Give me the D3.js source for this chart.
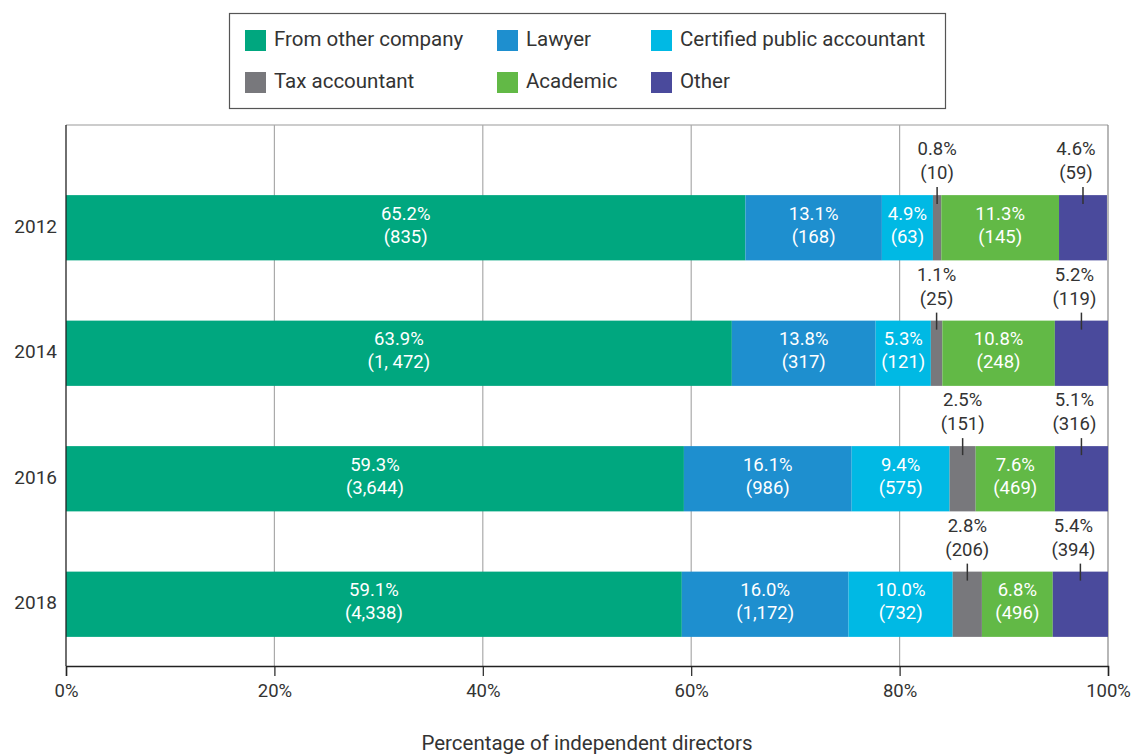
<!DOCTYPE html>
<html>
<head>
<meta charset="utf-8">
<script src="https://cdn.jsdelivr.net/npm/d3@7"></script>
<style>
  body { margin: 0; background: #fff; }
  text { font-family: Roboto, "DejaVu Sans", sans-serif; }
</style>
</head>
<body>
<svg id="chart" width="1134" height="754"></svg>
<script>
// data
var years = ["2012", "2014", "2016", "2018"];
var categories = ["From other company", "Lawyer", "Certified public accountant", "Tax accountant", "Academic", "Other"];
var fromOtherPct = [65.2, 63.9, 59.3, 59.1];
var lawyerPct = [13.1, 13.8, 16.1, 16.0];
var cpaPct = [4.9, 5.3, 9.4, 10.0];
var taxPct = [0.8, 1.1, 2.5, 2.8];
var academicPct = [11.3, 10.8, 7.6, 6.8];
var otherPct = [4.6, 5.2, 5.1, 5.4];
var fromOtherCount = ["835", "1, 472", "3,644", "4,338"];
var lawyerCount = ["168", "317", "986", "1,172"];
var cpaCount = ["63", "121", "575", "732"];
var taxCount = ["10", "25", "151", "206"];
var academicCount = ["145", "248", "469", "496"];
var otherCount = ["59", "119", "316", "394"];
var xTicks = [0, 20, 40, 60, 80, 100];

var colors = ["#00a77f", "#1e8fcf", "#00b9e4", "#78787c", "#62b946", "#4a4a9c"];
var pctSeries = [fromOtherPct, lawyerPct, cpaPct, taxPct, academicPct, otherPct];
var countSeries = [fromOtherCount, lawyerCount, cpaCount, taxCount, academicCount, otherCount];
var outside = [false, false, false, true, false, true];

var svg = d3.select("#chart");
var plotLeft = 66, plotRight = 1108, plotTop = 125, plotBottom = 666;

var x = d3.scaleLinear().domain([0, 100]).range([plotLeft, plotRight]);
var y = d3.scaleBand().domain(years).range([165, 667])
  .paddingInner(0.48).paddingOuter(0.24);

// frame + grid
svg.append("line").attr("x1", plotLeft).attr("x2", plotRight).attr("y1", plotTop).attr("y2", plotTop)
  .attr("stroke", "#999").attr("stroke-width", 1.2);
svg.append("line").attr("x1", plotRight).attr("x2", plotRight).attr("y1", plotTop).attr("y2", plotBottom)
  .attr("stroke", "#888").attr("stroke-width", 1.2);
svg.selectAll(".grid").data(xTicks.slice(1, -1)).enter().append("line")
  .attr("x1", function(d) { return x(d); }).attr("x2", function(d) { return x(d); })
  .attr("y1", plotTop).attr("y2", plotBottom)
  .attr("stroke", "#aaa").attr("stroke-width", 1.2);

// stacked rows
var rows = years.map(function(yr, i) {
  var r = { year: yr };
  categories.forEach(function(c, k) { r[c] = pctSeries[k][i]; });
  return r;
});
var stacked = d3.stack().keys(categories)(rows);

stacked.forEach(function(layer, k) {
  svg.append("g").selectAll("rect").data(layer).enter().append("rect")
    .attr("x", function(d) { return x(d[0]); })
    .attr("width", function(d) { return x(Math.min(d[1], 100)) - x(d[0]); })
    .attr("y", function(d) { return y(d.data.year); })
    .attr("height", y.bandwidth())
    .attr("fill", colors[k]);
});

// value labels
var fs = 18.5;
stacked.forEach(function(layer, k) {
  layer.forEach(function(d, i) {
    var cx = (x(d[0]) + x(Math.min(d[1], 100))) / 2;
    var top0 = y(d.data.year);
    var pctTxt = pctSeries[k][i].toFixed(1) + "%";
    var cntTxt = "(" + countSeries[k][i] + ")";
    if (outside[k]) {
      var lx = k === 5 ? cx - 7 : cx;
      svg.append("line").attr("x1", cx).attr("x2", cx)
        .attr("y1", top0 - 8).attr("y2", top0 + 9)
        .attr("stroke", "#333").attr("stroke-width", 1.5);
      svg.append("text").attr("x", lx).attr("y", top0 - 45)
        .attr("text-anchor", "middle").attr("dominant-baseline", "middle")
        .attr("font-size", fs).attr("fill", "#333").text(pctTxt);
      svg.append("text").attr("x", lx).attr("y", top0 - 21)
        .attr("text-anchor", "middle").attr("dominant-baseline", "middle")
        .attr("font-size", fs).attr("fill", "#333").text(cntTxt);
    } else {
      var cy = top0 + y.bandwidth() / 2;
      svg.append("text").attr("x", cx).attr("y", cy - 13)
        .attr("text-anchor", "middle").attr("dominant-baseline", "middle")
        .attr("font-size", fs).attr("fill", "#fff").text(pctTxt);
      svg.append("text").attr("x", cx).attr("y", cy + 10)
        .attr("text-anchor", "middle").attr("dominant-baseline", "middle")
        .attr("font-size", fs).attr("fill", "#fff").text(cntTxt);
    }
  });
});

// left axis line + year labels
svg.append("line").attr("x1", plotLeft).attr("x2", plotLeft).attr("y1", plotTop).attr("y2", plotBottom)
  .attr("stroke", "#222").attr("stroke-width", 1.3);
svg.selectAll(".ylab").data(years).enter().append("text")
  .attr("x", 57).attr("y", function(d) { return y(d) + y.bandwidth() / 2; })
  .attr("text-anchor", "end").attr("dominant-baseline", "middle")
  .attr("font-size", 19).attr("fill", "#333").text(function(d) { return d; });

// bottom axis
var xAxis = svg.append("g").attr("transform", "translate(0," + plotBottom + ")")
  .call(d3.axisBottom(x).tickValues(xTicks).tickSize(10).tickPadding(8)
    .tickFormat(function(d) { return d + "%"; }));
xAxis.select(".domain").attr("stroke", "#222").attr("stroke-width", 1.5);
xAxis.selectAll(".tick line").attr("stroke", "#222").attr("stroke-width", 1.2);
xAxis.selectAll(".tick text").attr("font-size", 18.5).attr("fill", "#333")
  .attr("font-family", "Roboto, sans-serif");

svg.append("text").attr("x", (plotLeft + plotRight) / 2).attr("y", 745)
  .attr("text-anchor", "middle").attr("dominant-baseline", "middle")
  .attr("font-size", 20.5).attr("fill", "#333").text("Percentage of independent directors");

// legend
svg.append("rect").attr("x", 229.5).attr("y", 13.5).attr("width", 716).attr("height", 95)
  .attr("fill", "#fff").attr("stroke", "#555").attr("stroke-width", 1.2);
var legX = [245, 497, 651];
var legY = [30, 72];
categories.forEach(function(c, k) {
  var gx = legX[k % 3], gy = legY[Math.floor(k / 3)];
  svg.append("rect").attr("x", gx).attr("y", gy).attr("width", 21).attr("height", 21)
    .attr("fill", colors[k]);
  svg.append("text").attr("x", gx + 29).attr("y", gy + 11)
    .attr("dominant-baseline", "middle").attr("font-size", 20.5).attr("fill", "#333").text(c);
});
</script>
</body>
</html>
